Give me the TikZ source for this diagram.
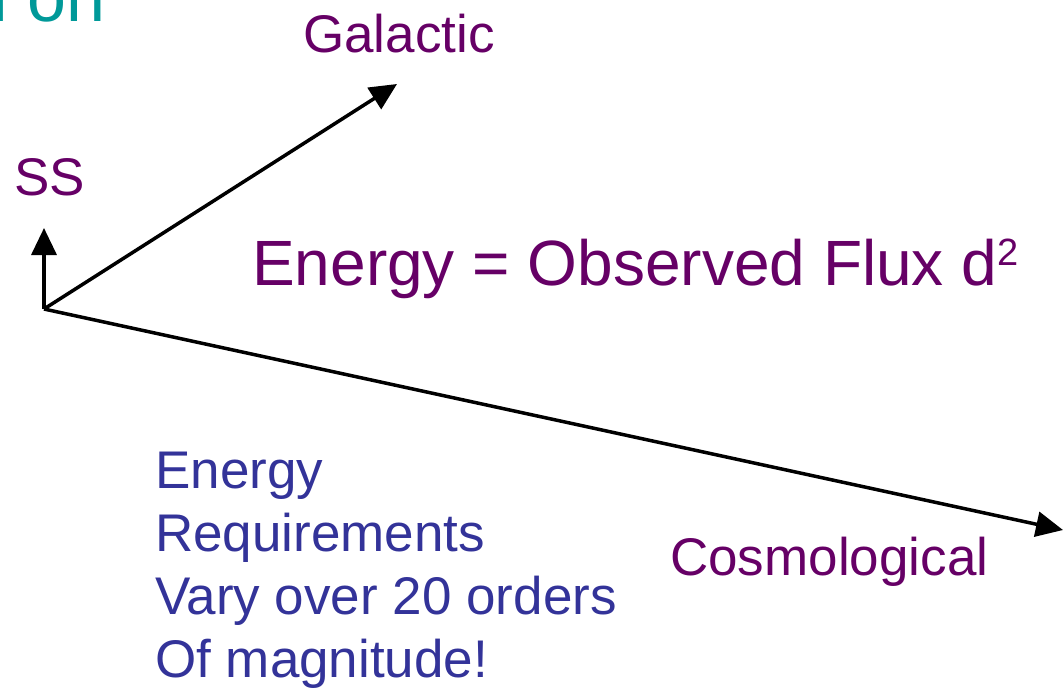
\documentclass[tikz,border=0pt]{standalone}
\usepackage{fontspec}
\setmainfont{Liberation Sans}
\usetikzlibrary{arrows.meta,positioning}
\definecolor{labelpurple}{HTML}{660066}
\definecolor{noteblue}{HTML}{333399}
\definecolor{titleteal}{HTML}{009999}
\tikzset{
  vec/.style={line width=3.5pt, -{Triangle[length=27pt,width=25pt]}},
  scale label/.style={text=labelpurple, font=\fontsize{53}{62}\selectfont, inner sep=0pt, anchor=base west},
}

\begin{document}
\begin{tikzpicture}[x=1pt,y=-1pt]
    \useasboundingbox (0,0) rectangle (1064,688);

    % Title remnant
    \begin{scope}
        \clip (0,0) rectangle (1064,688);
        \node[text=titleteal, font=\fontsize{70}{80}\selectfont, inner sep=0pt, anchor=base west] (title) at (-8,21) {l on};
    \end{scope}

    % Distance axes
    \coordinate (origin) at (44,309);
    \coordinate (sstip) at (44,228);
    \coordinate (galtip) at (397,84);
    \coordinate (costip) at (1063,530);
    \draw[vec] (origin) -- (sstip);
    \draw[vec] (origin) -- (galtip);
    \draw[vec] (origin) -- (costip);

    % Scale labels
    \node[scale label] (ss) at (14,195) {SS};
    \node[scale label] (galactic) at (303,52) {Galactic};
    \node[scale label] (cosmo) at (670,575) {Cosmological};

    % Formula
    \node[text=labelpurple, font=\fontsize{64}{74}\selectfont, inner sep=0pt, anchor=base west] (formula) at (252,285)
        {Energy = Observed Flux d\raisebox{20pt}{\fontsize{38}{44}\selectfont 2}};

    % Note
    \node[text=noteblue, font=\fontsize{53}{63}\selectfont, inner sep=0pt, anchor=base west, align=left] (note) at (155,677)
        {Energy\\Requirements\\Vary over 20 orders\\Of magnitude!};
\end{tikzpicture}
\end{document}
